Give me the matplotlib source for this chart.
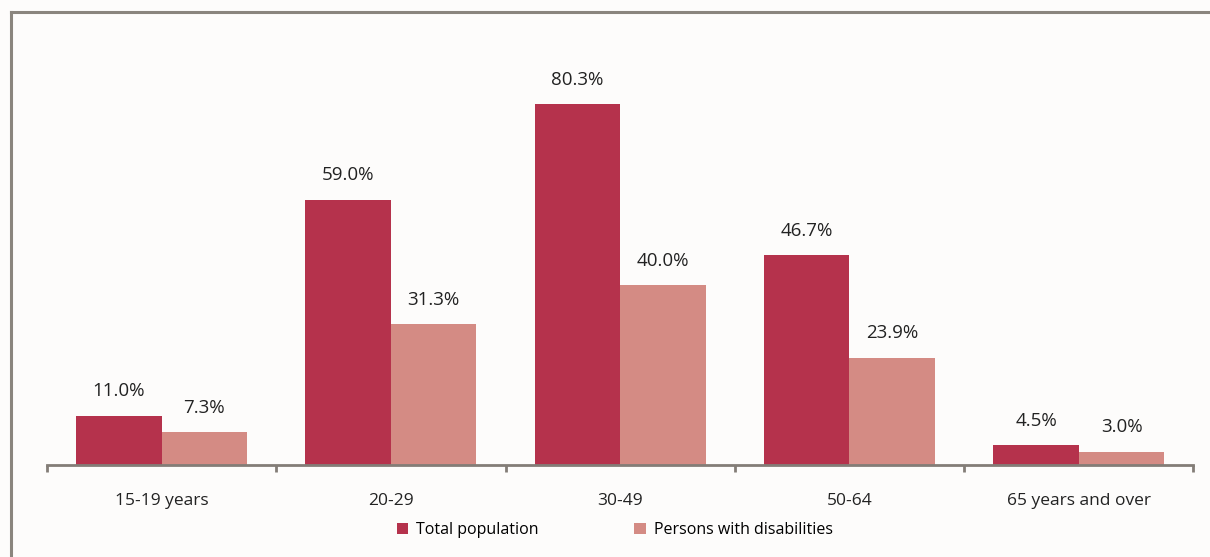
import matplotlib.pyplot as plt
import numpy as np
from matplotlib.lines import Line2D

plt.rcParams['font.family'] = ['Open Sans', 'DejaVu Sans']

# employment rate by age group
groepen = ['15-19 years', '20-29', '30-49', '50-64', '65 years and over']
totaal = [11.0, 59.0, 80.3, 46.7, 4.5]
gehandicapt = [7.3, 31.3, 40.0, 23.9, 3.0]

kleur_tot = '#B5324C'
kleur_geh = '#D48B84'
grijs = '#837d77'

fig = plt.figure(figsize=(12.1, 5.57), dpi=100, facecolor='#fdfcfb')
ax = fig.add_axes([0.0388, 0.165, 0.9475, 0.727])
ax.set_facecolor('none')

x = np.arange(len(groepen))
b = 0.373
s1 = ax.bar(x - b/2, totaal, b, color=kleur_tot, label='Total population')
s2 = ax.bar(x + b/2, gehandicapt, b, color=kleur_geh, label='Persons with disabilities')

for balk, w in zip(s1, totaal):
    ax.annotate(f'{w:.1f}%', (balk.get_x() + balk.get_width()/2, w), xytext=(0, 11),
                textcoords='offset points', ha='center', va='bottom', fontsize=13.5, color='#222222')
for balk, w in zip(s2, gehandicapt):
    ax.annotate(f'{w:.1f}%', (balk.get_x() + balk.get_width()/2, w), xytext=(0, 11),
                textcoords='offset points', ha='center', va='bottom', fontsize=13.5, color='#222222')

ax.set_xlim(-0.5, len(groepen) - 0.5)
ax.set_ylim(0, 90)
ax.set_yticks([])
for kant in ['top', 'right', 'left']:
    ax.spines[kant].set_visible(False)
ax.spines['bottom'].set_color(grijs)
ax.spines['bottom'].set_linewidth(2)

# tick marks on the group boundaries, labels in the middle
ax.set_xticks(np.arange(-0.5, len(groepen)), minor=False)
ax.set_xticklabels([])
ax.tick_params(axis='x', which='major', length=5, width=2, color=grijs, direction='out')
ax.set_xticks(x, minor=True)
ax.set_xticklabels(groepen, minor=True, fontsize=12.5, color='#222222')
ax.tick_params(axis='x', which='minor', length=0, pad=20)

fig.legend(handles=[s1, s2], loc='center', bbox_to_anchor=(0.508, 0.048), ncol=2,
           frameon=False, fontsize=11.5, handlelength=0.7, handleheight=0.7,
           handletextpad=0.5, columnspacing=6.0)

# grey frame on top and left
fig.add_artist(Line2D([0.009, 1.0], [0.978, 0.978], transform=fig.transFigure, color='#8a857e', lw=2.2))
fig.add_artist(Line2D([0.009, 0.009], [0.0, 0.978], transform=fig.transFigure, color='#8a857e', lw=2.2))

fig.savefig('out.png', dpi=100, facecolor=fig.get_facecolor())
